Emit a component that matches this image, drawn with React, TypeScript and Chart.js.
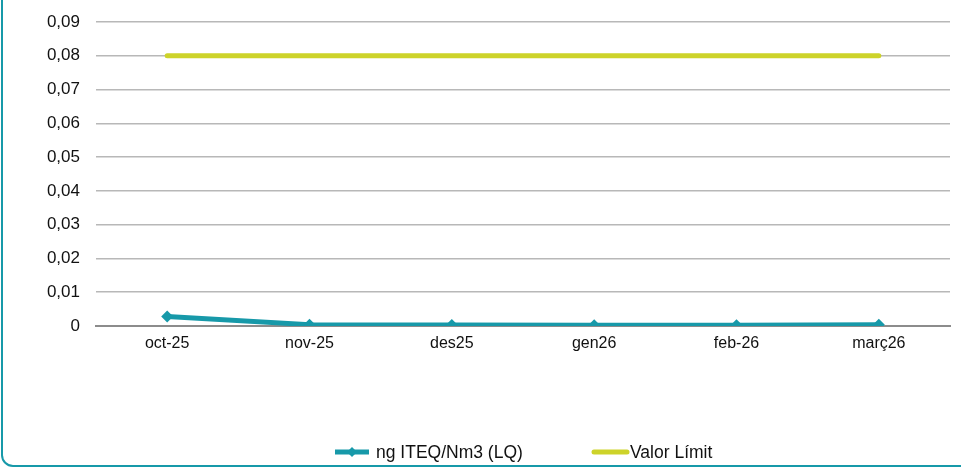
import React, { useEffect, useRef } from "react";
import { Chart, registerables } from "chart.js";

Chart.register(...registerables);

const categories = ["oct-25", "nov-25", "des25", "gen26", "feb-26", "març26"];
const seriesMeasured = [0.0028, 0.0004, 0.0003, 0.0002, 0.0002, 0.0004];
const seriesLimit = [0.08, 0.08, 0.08, 0.08, 0.08, 0.08];
const seriesNames = ["ng ITEQ/Nm3 (LQ)", "Valor Límit"];
const yTicks = [0, 0.01, 0.02, 0.03, 0.04, 0.05, 0.06, 0.07, 0.08, 0.09];

const TEAL = "#1799a9";
const YELLOW = "#cdd32a";
const FONT = "'Liberation Sans', Arial, sans-serif";

const legendPlugin = {
  id: "customLegend",
  afterDraw(chart: any) {
    const ctx = chart.ctx;
    const y = 452;
    ctx.save();
    ctx.font = `17.5px ${FONT}`;
    ctx.fillStyle = "#111";
    ctx.textBaseline = "middle";
    ctx.textAlign = "left";
    ctx.strokeStyle = TEAL;
    ctx.lineWidth = 5;
    ctx.lineCap = "butt";
    ctx.beginPath();
    ctx.moveTo(335, y);
    ctx.lineTo(369, y);
    ctx.stroke();
    ctx.fillStyle = TEAL;
    ctx.beginPath();
    ctx.moveTo(352, y - 5);
    ctx.lineTo(357, y);
    ctx.lineTo(352, y + 5);
    ctx.lineTo(347, y);
    ctx.closePath();
    ctx.fill();
    ctx.fillStyle = "#111";
    ctx.fillText(seriesNames[0], 376, y + 1);
    ctx.strokeStyle = YELLOW;
    ctx.lineCap = "round";
    ctx.beginPath();
    ctx.moveTo(594, y);
    ctx.lineTo(627, y);
    ctx.stroke();
    ctx.fillText(seriesNames[1], 630, y + 1);
    ctx.restore();
  },
};

export default function App() {
  const ref = useRef<HTMLCanvasElement | null>(null);
  useEffect(() => {
    if (!ref.current) return;
    const chart = new Chart(ref.current, {
      type: "line",
      data: {
        labels: categories,
        datasets: [
          {
            label: seriesNames[0],
            data: seriesMeasured,
            borderColor: TEAL,
            backgroundColor: TEAL,
            borderWidth: 5,
            pointStyle: "rectRot",
            pointRadius: 6,
            pointHoverRadius: 6,
            pointBorderWidth: 0,
            tension: 0,
          },
          {
            label: seriesNames[1],
            data: seriesLimit,
            borderColor: YELLOW,
            backgroundColor: YELLOW,
            borderWidth: 5,
            borderCapStyle: "round",
            pointRadius: 0,
            tension: 0,
          },
        ],
      },
      options: {
        animation: false,
        responsive: false,
        maintainAspectRatio: false,
        layout: { padding: { top: 22, right: 11, left: 0, bottom: 0 } },
        plugins: { legend: { display: false }, tooltip: { enabled: false } },
        scales: {
          x: {
            type: "category",
            offset: true,
            grid: { display: false, drawTicks: false },
            border: { display: true, color: "#8c8c8c", width: 2 },
            ticks: { color: "#111", font: { family: FONT, size: 16 }, padding: 8, maxRotation: 0 },
            afterFit: (s: any) => {
              s.height = 150;
              s.paddingLeft = 0;
              s.paddingRight = 0;
            },
          },
          y: {
            min: 0,
            max: 0.09,
            afterBuildTicks: (s: any) => {
              s.ticks = yTicks.map((v) => ({ value: v }));
            },
            grid: { color: "#b8b8b8", lineWidth: 1.5, drawTicks: false },
            border: { display: false },
            ticks: {
              color: "#111",
              font: { family: FONT, size: 17 },
              padding: 16,
              callback: (v: any) => (v === 0 ? "0" : Number(v).toFixed(2).replace(".", ",")),
            },
            afterFit: (s: any) => {
              s.width = 96;
              s.paddingTop = 0;
              s.paddingBottom = 0;
            },
          },
        },
      },
      plugins: [legendPlugin],
    });
    return () => chart.destroy();
  }, []);
  return (
    <div style={{ position: "fixed", left: 0, top: 0, width: 961, height: 476, overflow: "hidden", background: "#fff" }}>
      <div
        style={{
          position: "absolute",
          left: 1,
          top: -30,
          width: 1100,
          height: 497,
          border: `2px solid ${TEAL}`,
          borderRadius: 12,
          boxSizing: "border-box",
        }}
      />
      <canvas ref={ref} width={961} height={476} style={{ position: "absolute", left: 0, top: 0 }} />
    </div>
  );
}
